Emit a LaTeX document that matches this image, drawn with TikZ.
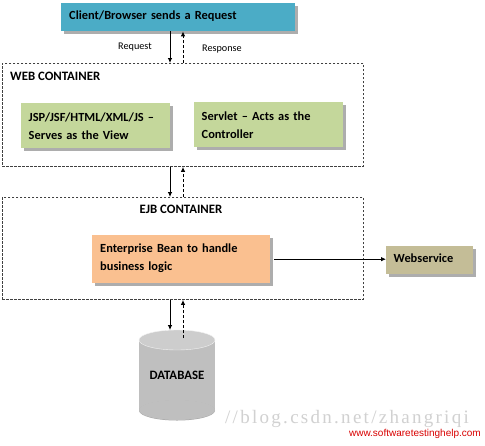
\documentclass[tikz,border=0pt]{standalone}
\usepackage{fontspec}
\setmainfont{Carlito}
\newfontfamily\wmserif[LetterSpace=12]{Liberation Serif}
\newfontfamily\wmsans{Liberation Sans}
\usetikzlibrary{shadows,arrows.meta}
\definecolor{clientc}{HTML}{4BACC6}
\definecolor{greenc}{HTML}{C4D79B}
\definecolor{orangec}{HTML}{FAC090}
\definecolor{wsc}{HTML}{C4BD97}
\definecolor{dbc}{HTML}{BFBFBF}
\definecolor{dbtop}{HTML}{CDCDCD}
\begin{document}
\begin{tikzpicture}[x=1pt,y=-1pt,
  box/.style={draw=none, drop shadow={shadow xshift=2.5pt,shadow yshift=-2.5pt,fill=black!40,opacity=0.8},
    font=\bfseries\fontsize{12.4}{18}\selectfont, align=left, anchor=north west, inner sep=0pt},
  container/.style={draw=black!75, dash pattern=on 2.5pt off 1.5pt, line width=0.9pt, anchor=north west, inner sep=0pt},
  ctitle/.style={font=\bfseries\fontsize{12.8}{14}\selectfont, inner sep=0pt},
  lab/.style={font=\fontsize{10.2}{12}\selectfont, inner sep=0pt},
  reqarrow/.style={-{Latex[length=5pt,width=4.5pt]}, line width=0.8pt},
  resarrow/.style={-{Latex[length=5pt,width=4.5pt]}, line width=0.9pt, dash pattern=on 3pt off 2pt}
]
\useasboundingbox (0,0) rectangle (485,445);
\fill[white] (0,0) rectangle (485,445);

% client
\node[box, fill=clientc, minimum width=234pt, minimum height=28pt, text width=218pt] (client) at (61,3) {Client/Browser sends a Request\rule[-4pt]{0pt}{1pt}};

% containers
\node[container, minimum width=361pt, minimum height=103pt] (web) at (2,63) {};
\node[container, minimum width=361pt, minimum height=102pt] (ejb) at (2,197) {};
\node[ctitle, anchor=west] (webt) at (10,76) {WEB CONTAINER};
\node[ctitle] (ejbt) at (181,209) {EJB CONTAINER};

% web boxes
\node[box, fill=greenc, minimum width=149pt, minimum height=45pt, text width=134pt] (view) at (21,103) {JSP/JSF/HTML/XML/JS --\\Serves as the View};
\node[box, fill=greenc, minimum width=149pt, minimum height=45pt, text width=134pt] (servlet) at (194,102) {Servlet -- Acts as the\\Controller};

% ejb box
\node[box, fill=orangec, minimum width=178pt, minimum height=48pt, text width=162pt] (bean) at (92,235) {Enterprise Bean to handle\\business logic\rule[-5pt]{0pt}{1pt}};

% webservice
\node[box, fill=wsc, minimum width=87pt, minimum height=28pt, text width=72pt] (ws) at (386,246) {Webservice\rule[-4pt]{0pt}{1pt}};

% database
\fill[dbc] (139,340) rectangle (215,410);
\fill[black!35] (177,410.5) ellipse [x radius=38, y radius=10];
\fill[dbc] (177,410) ellipse [x radius=38, y radius=10];
\fill[dbtop] (177,340) ellipse [x radius=38, y radius=10];
\draw[white!90!gray, line width=0.4pt] (177,340) ellipse [x radius=38, y radius=10];
\node[font=\bfseries\fontsize{12.8}{14}\selectfont, minimum width=76pt, minimum height=90pt, inner sep=0pt, anchor=north] (db) at (177,330) {\rule{0pt}{8pt}DATABASE};

% arrow x positions
\coordinate (xa) at (170,0);
\coordinate (xb) at (183,0);

\draw[reqarrow] (client.south -| xa) -- (web.north -| xa);
\draw[resarrow] (web.north -| xb) -- (client.south -| xb);
\node[lab] (reql) at (135,47) {Request};
\node[lab] (resl) at (222,49) {Response};

\draw[reqarrow] (web.south -| xa) -- (ejb.north -| xa);
\draw[resarrow] (ejb.north -| xb) -- (web.south -| xb);

\draw[reqarrow] (ejb.south -| xa) -- (db.north -| xa);
\draw[resarrow] ([yshift=-8pt]db.north -| xb) -- (ejb.south -| xb);

\draw[reqarrow] ([xshift=4pt]bean.east) -- (bean.east -| ws.west);

% watermarks
\node[font=\wmserif\fontsize{19}{21}\selectfont, text=black!18, anchor=west, inner sep=0pt] (wm1) at (225,419) {//blog.csdn.net/zhangriqi};
\node[font=\wmsans\fontsize{10}{12}\selectfont, text=red!85!black, anchor=east, inner sep=0pt] (wm2) at (481,434) {www.softwaretestinghelp.com};
\end{tikzpicture}
\end{document}
